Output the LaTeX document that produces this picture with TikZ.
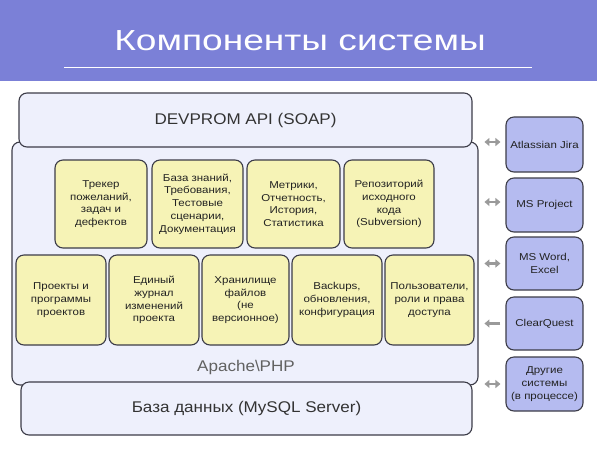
\documentclass[tikz,border=0pt]{standalone}
\usepackage{fontspec}
\setmainfont{Liberation Sans}
\newfontfamily\titlefont[FakeStretch=1.28]{Liberation Sans}
\newfontfamily\wfont[FakeStretch=1.15]{Liberation Sans}
\newfontfamily\bigfont[FakeStretch=1.1]{Liberation Sans}
\usetikzlibrary{arrows.meta}
\definecolor{band}{HTML}{7B80D7}
\definecolor{lav}{HTML}{EEF0FC}
\definecolor{yel}{HTML}{F6F3B6}
\definecolor{ext}{HTML}{B5BBF0}
\definecolor{edge}{HTML}{3C3C48}
\definecolor{txt}{HTML}{222222}
\definecolor{arrgray}{HTML}{9A9A9A}
\tikzset{
  base/.style={draw=edge, line width=1.1pt, rounded corners=8pt, inner sep=0pt, align=center, text=txt},
  layer/.style={base, fill=lav},
  comp/.style={base, fill=yel, minimum height=#1, font=\wfont\fontsize{10}{12.7}\selectfont},
  extsys/.style={base, fill=ext, minimum width=77pt, minimum height=#1, font=\wfont\fontsize{10}{12.7}\selectfont},
  link/.style={draw=arrgray, line width=2.6pt, -{Triangle[length=5pt,width=8pt]}},
  dlink/.style={draw=arrgray, line width=2.6pt, {Triangle[length=5pt,width=8pt]}-{Triangle[length=5pt,width=8pt]}},
}
\begin{document}
\begin{tikzpicture}[x=1pt,y=-1pt]
\useasboundingbox (0,0) rectangle (597,448);
\fill[band] (0,0) rectangle (597,81);
\node[anchor=base, text=white, font=\titlefont\fontsize{29}{30}\selectfont, inner sep=0] (title) at (300,50) {Компоненты системы};
\coordinate (ul) at (64,67);
\coordinate (ur) at (532,67);
\draw[white, line width=1pt] (ul) -- (ur);

% layers
\node[layer, minimum width=466pt, minimum height=243pt] (apache) at (245,263.5) {};
\node[anchor=base, text=black!62, font=\bigfont\fontsize{15.5}{17}\selectfont, inner sep=0] (apachetxt) at (246,371) {Apache\textbackslash PHP};
\node[layer, minimum width=453pt, minimum height=54pt, font=\bigfont\fontsize{15.5}{17}\selectfont, text=black!80] (api) at (245.5,120) {DEVPROM API (SOAP)};
\node[layer, minimum width=451pt, minimum height=53pt, font=\bigfont\fontsize{15.5}{17}\selectfont, text=black!80] (db) at (246.5,408.5) {База данных (MySQL Server)};

% top row components
\node[comp=88pt, minimum width=92pt] (c1) at (101,204) {Трекер\\пожеланий,\\задач и\\дефектов};
\node[comp=88pt, minimum width=91pt] (c2) at (197.5,204) {База знаний,\\Требования,\\Тестовые\\сценарии,\\Документация};
\node[comp=88pt, minimum width=93pt] (c3) at (293.5,204) {Метрики,\\Отчетность,\\История,\\Статистика};
\node[comp=88pt, minimum width=90pt] (c4) at (389,204) {Репозиторий\\исходного\\кода\\(Subversion)};

% bottom row components
\node[comp=90pt, minimum width=90pt] (d1) at (61,300) {Проекты и\\программы\\проектов};
\node[comp=90pt, minimum width=90pt] (d2) at (154,300) {Единый\\журнал\\изменений\\проекта};
\node[comp=90pt, minimum width=87pt] (d3) at (245.5,300) {Хранилище\\файлов\\(не\\версионное)};
\node[comp=90pt, minimum width=90pt] (d4) at (337,300) {Backups,\\обновления,\\конфигурация};
\node[comp=90pt, minimum width=89pt] (d5) at (429.5,300) {Пользователи,\\роли и права\\доступа};

% external systems
\node[extsys=55pt] (jira) at (544.5,144.5) {Atlassian Jira};
\node[extsys=54pt] (msp) at (544.5,205) {MS Project};
\node[extsys=53pt] (msw) at (544.5,263.5) {MS Word,\\Excel};
\node[extsys=53pt] (cq) at (544.5,323.5) {ClearQuest};
\node[extsys=54pt] (oth) at (544.5,384) {Другие\\системы\\(в процессе)};

% arrows
\draw[dlink] ([xshift=-21pt,yshift=2.5pt]jira.west) -- ([xshift=-5pt,yshift=2.5pt]jira.west);
\draw[dlink] ([xshift=-21pt,yshift=3pt]msp.west) -- ([xshift=-5pt,yshift=3pt]msp.west);
\draw[dlink] ([xshift=-21pt]msw.west) -- ([xshift=-5pt]msw.west);
\draw[link] ([xshift=-5pt]cq.west) -- ([xshift=-21pt]cq.west);
\draw[dlink] ([xshift=-21pt]oth.west) -- ([xshift=-5pt]oth.west);
\end{tikzpicture}
\end{document}
